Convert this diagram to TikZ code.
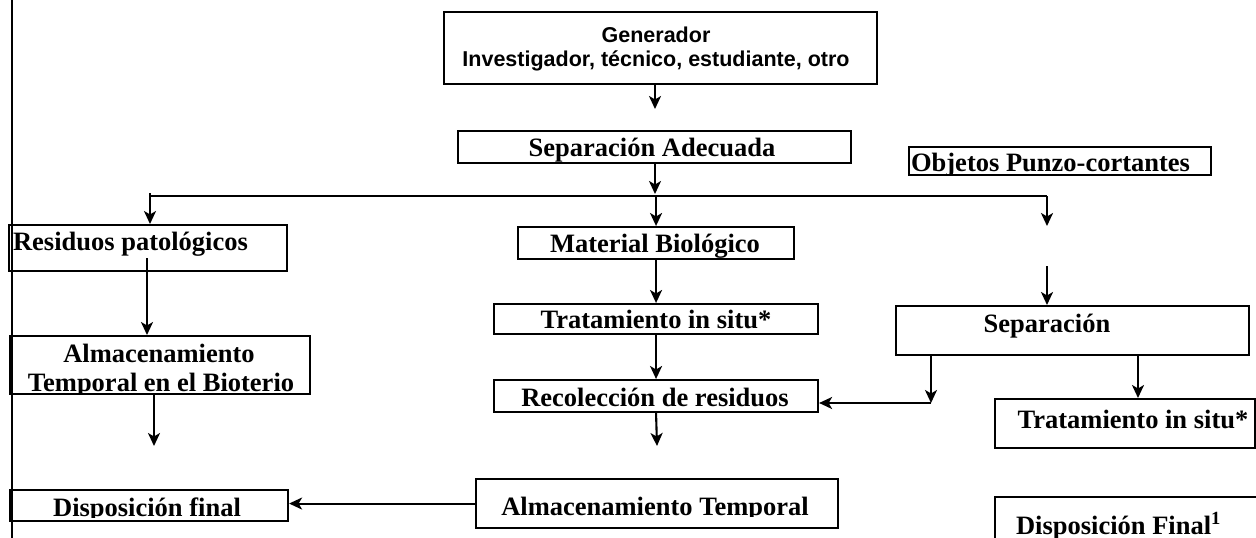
\documentclass[tikz,border=0pt]{standalone}
\usepackage{fontspec}
\usepackage{tikz}
\setmainfont{Liberation Serif}
\newfontfamily\arialfont{Liberation Sans}
\usetikzlibrary{arrows.meta}

\begin{document}
\begin{tikzpicture}[x=1pt, y=-1pt, line width=2.1pt,
  >={Stealth[length=13pt, width=12pt, inset=3.5pt]},
  box/.style={draw, line width=2.1pt, inner sep=0pt, anchor=north west},
  lbl/.style={anchor=base, inner sep=0pt, font=\fontsize{26.5}{28}\selectfont\bfseries},
  glbl/.style={anchor=base, inner sep=0pt, font=\fontsize{21.5}{25}\selectfont\arialfont\bfseries}]
  \useasboundingbox (0,0) rectangle (1256,538);

  % left margin line
  \draw (12,0) -- (12,538);

  % boxes
  \node[box, minimum width=433pt, minimum height=72pt] (gen) at (443,11) {};
  \node[box, minimum width=393pt, minimum height=32pt] (sepad) at (457,130) {};
  \node[box, minimum width=302pt, minimum height=28pt] (obj) at (908,146) {};
  \node[box, minimum width=278pt, minimum height=46pt] (respat) at (8,224) {};
  \node[box, minimum width=276pt, minimum height=32pt] (matbio) at (517,226) {};
  \node[box, minimum width=324pt, minimum height=30pt] (trat1) at (493,303) {};
  \node[box, minimum width=324pt, minimum height=32pt] (recol) at (493,379) {};
  \node[box, minimum width=362pt, minimum height=49pt] (almtemp) at (475,478) {};
  \node[box, minimum width=300pt, minimum height=58pt] (almbio) at (9,335) {};
  \node[box, minimum width=278pt, minimum height=31pt] (dispfin) at (9,489) {};
  \node[box, minimum width=353pt, minimum height=49pt] (separ) at (895,305) {};
  \node[box, minimum width=260pt, minimum height=49pt] (trat2) at (994,398) {};
  \node[box, minimum width=290pt, minimum height=70pt] (dispF) at (994,496) {};

  % texts
  \node[glbl] (gen1) at (656,42) {Generador};
  \node[glbl] (gen2) at (656,66) {Investigador, técnico, estudiante, otro};
  \node[lbl] (sepadtxt) at (652,156) {Separación Adecuada};
  \begin{scope}
    \clip (908,146) rectangle (1210,173);
    \node[lbl, anchor=base west] (objtxt) at (910,171) {Objetos Punzo-cortantes};
  \end{scope}
  \node[lbl, anchor=base west] (respattxt) at (12,250) {Residuos patológicos};
  \node[lbl] (matbiotxt) at (655,252) {Material Biológico};
  \node[lbl] (trat1txt) at (656,328) {Tratamiento in situ*};
  \node[lbl] (recoltxt) at (655,406) {Recolección de residuos};
  \begin{scope}
    \clip (475,478) rectangle (837,516);
    \node[lbl] (almtemptxt) at (655,515) {Almacenamiento Temporal};
  \end{scope}
  \node[lbl] (almbio1) at (159,362) {Almacenamiento};
  \begin{scope}
    \clip (9,335) rectangle (309,392);
    \node[lbl] (almbio2) at (161,391) {Temporal en el Bioterio};
  \end{scope}
  \begin{scope}
    \clip (9,489) rectangle (287,517);
    \node[lbl] (dispfintxt) at (147,516) {Disposición final};
  \end{scope}
  \node[lbl] (separtxt) at (1047,332) {Separación};
  \node[lbl] (trat2txt) at (1133,428) {Tratamiento in situ*};
  \node[lbl, anchor=base west] (dispFtxt) at (1015,534) {Disposición Final\textsuperscript{1}};

  % free ends and corners
  \coordinate (a1) at (655,109);
  \coordinate (a2) at (655,194);
  \coordinate (hl) at (150,196);
  \coordinate (hr) at (1047,196);
  \coordinate (a3) at (1047,226);
  \coordinate (a4) at (1047,266);
  \coordinate (b1) at (147,258);
  \coordinate (a5) at (154,446);
  \coordinate (a6) at (657,446);
  \coordinate (j1) at (931,403);
  \coordinate (c1) at (1138,354);

  % connectors
  \draw[->] (gen.south -| a1) -- (a1);
  \draw[->] (sepad.south -| a2) -- (a2);
  \draw (hl) -- (hr);
  \draw[->] ([yshift=3pt]hl) -- (respat.north -| hl);
  \draw[->] (hl -| matbio) -- (matbio);
  \draw[->] (hr) -- (a3);
  \draw[->] (a4) -- (separ.north -| a4);
  \draw[->] (b1) -- (almbio.north -| b1);
  \draw[->] (almbio.south -| a5) -- (a5);
  \draw[->] (matbio) -- (trat1);
  \draw[->] (trat1) -- (recol);
  \draw[->] (recol.south) -- (a6);
  \draw[->] (almtemp.west) -- (dispfin.east |- almtemp.west);
  \draw[->] (separ.south -| j1) -- (j1);
  \draw[->] (j1) -- (recol.east |- j1);
  \draw[->] (c1) -- (trat2.north -| c1);
\end{tikzpicture}
\end{document}
